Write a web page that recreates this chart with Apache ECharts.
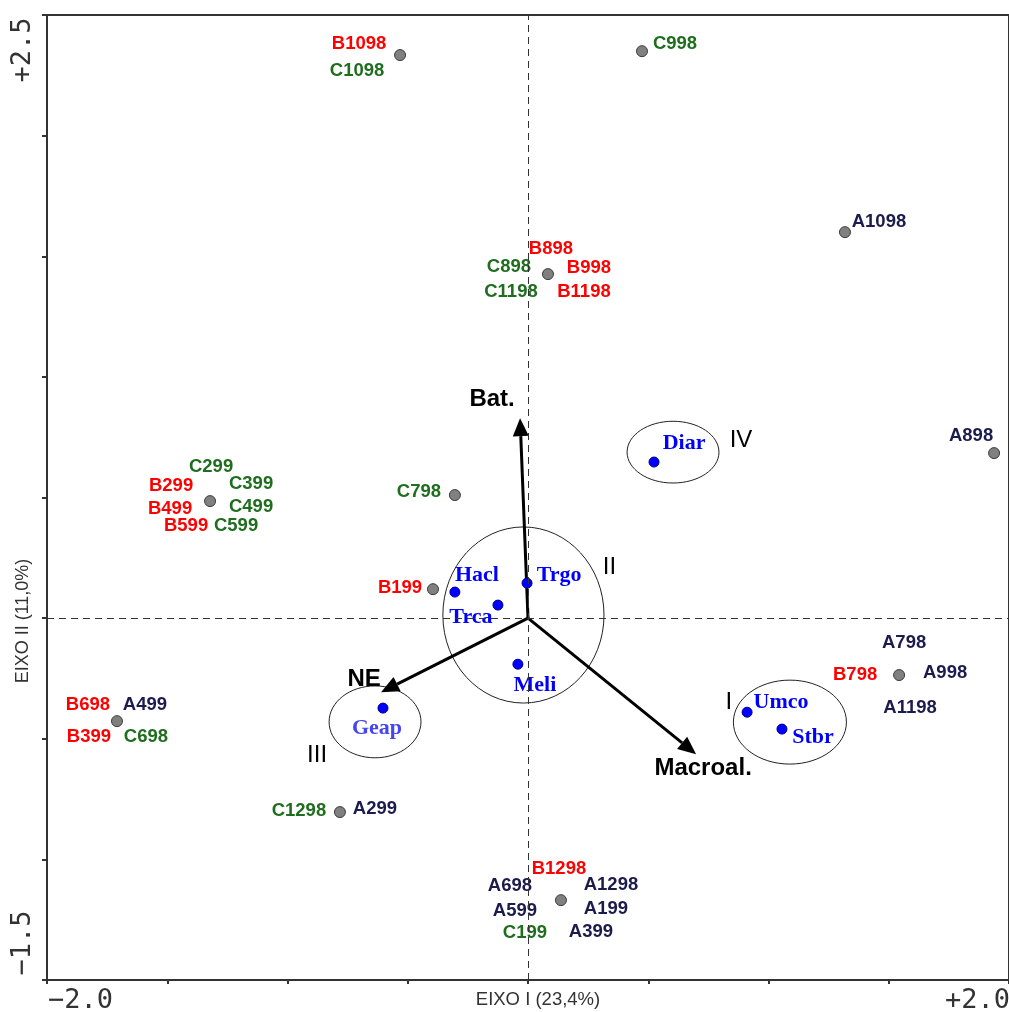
<!DOCTYPE html>
<html>
<head>
<meta charset="utf-8">
<title>EIXO I x EIXO II</title>
<script src="https://cdn.jsdelivr.net/npm/echarts@6/dist/echarts.min.js"></script>
<style>
  html, body { margin: 0; padding: 0; background: #fff; }
  #chart { width: 1009px; height: 1012px; }
</style>
</head>
<body>
<div id="chart"></div>
<script>
// sample points (grey) and the station names printed around each one
const sampleX = [-0.532, 0.474, 1.318, 0.083, 1.938, -1.322, -0.304, -0.395, 1.543, -1.709, -0.782, 0.137];
const sampleY = [2.334, 2.350, 1.600, 1.426, 0.684, 0.485, 0.510, 0.120, -0.236, -0.427, -0.804, -1.169];
const sampleNames = [
  ['B1098', 'C1098'],
  ['C998'],
  ['A1098'],
  ['B898', 'C898', 'B998', 'C1198', 'B1198'],
  ['A898'],
  ['C299', 'B299', 'C399', 'B499', 'C499', 'B599', 'C599'],
  ['C798'],
  ['B199'],
  ['A798', 'B798', 'A998', 'A1198'],
  ['B698', 'A499', 'B399', 'C698'],
  ['C1298', 'A299'],
  ['B1298', 'A698', 'A1298', 'A599', 'A199', 'C199', 'A399']
];

// species (blue)
const speciesNames = ['Diar', 'Hacl', 'Trgo', 'Trca', 'Meli', 'Geap', 'Umco', 'Stbr'];
const speciesX = [0.524, -0.304, -0.004, -0.125, -0.042, -0.603, 0.911, 1.056];
const speciesY = [0.647, 0.108, 0.145, 0.054, -0.191, -0.373, -0.390, -0.460];

// environmental vectors
const envNames = ['Bat.', 'NE', 'Macroal.'];
const envX = [-0.033, -0.611, 0.699];
const envY = [0.829, -0.307, -0.564];

// groups (ellipses)
const groupNames = ['IV', 'II', 'III', 'I'];
const groupCx = [0.603, -0.019, -0.636, 1.089];
const groupCy = [0.688, 0.013, -0.430, -0.431];
const groupRx = [0.191, 0.335, 0.191, 0.235];
const groupRy = [0.128, 0.365, 0.149, 0.174];

// axis end labels
const xTickLabels = ['\u22122.0', '+2.0'];
const yTickLabels = ['+2.5', '\u22121.5'];
const xAxisTitle = 'EIXO I (23,4%)';
const yAxisTitle = 'EIXO II (11,0%)';

// label placement (pixels from the point)
const sampleOffsets = [
  [[-41, -11], [-43, 16]],
  [[33, -7]],
  [[34, -10]],
  [[3, -25], [-39, -7], [41, -6], [-37, 18], [36, 18]],
  [[-23, -17]],
  [[1, -34], [-39, -15], [41, -17], [-40, 8], [41, 6], [-24, 25], [26, 25]],
  [[-36, -3]],
  [[-33, -1]],
  [[5, -32], [-44, 0], [46, -2], [11, 33]],
  [[-29, -16], [28, -16], [-28, 16], [29, 16]],
  [[-41, -1], [35, -3]],
  [[-2, -31], [-51, -14], [50, -15], [-46, 11], [45, 9], [-36, 33], [30, 32]]
];
const speciesOffsets = [[30, -19], [22, -17], [32, -8], [-27, 12], [17, 21], [-6, 20], [34, -10], [31, 8]];
const envOffsets = [[-28, -19], [-17, -13], [7, 14]];
const groupOffsets = [[68, -12], [86, -48], [-58, 34], [-61, -20]];

const nameColors = { A: '#1b1b4d', B: '#ff0000', C: '#1e6e1e' };

const chart = echarts.init(document.getElementById('chart'));

// symbol box is 2x2, so its centre sits at [1, 1]
const at = (off) => [off[0] + 1, off[1] + 1];

const labelItems = [];
sampleNames.forEach((names, i) => {
  names.forEach((n, j) => {
    labelItems.push({
      value: [sampleX[i], sampleY[i]],
      label: {
        formatter: n, position: at(sampleOffsets[i][j]),
        color: nameColors[n[0]], fontFamily: 'Liberation Sans', fontWeight: 'bold', fontSize: 18.5
      }
    });
  });
});
speciesNames.forEach((n, i) => {
  labelItems.push({
    value: [speciesX[i], speciesY[i]],
    label: {
      formatter: n, position: at(speciesOffsets[i]),
      color: n === 'Geap' ? '#4646ee' : '#0000ff', fontFamily: 'Liberation Serif', fontWeight: 'bold', fontSize: 22
    }
  });
});
envNames.forEach((n, i) => {
  labelItems.push({
    value: [envX[i], envY[i]],
    label: {
      formatter: n, position: at(envOffsets[i]),
      color: '#000', fontFamily: 'Liberation Sans', fontWeight: 'bold', fontSize: 24
    }
  });
});
groupNames.forEach((n, i) => {
  labelItems.push({
    value: [groupCx[i], groupCy[i]],
    label: {
      formatter: n, position: at(groupOffsets[i]),
      color: '#000', fontFamily: 'Liberation Sans', fontSize: 24
    }
  });
});

const options = {
  animation: false,
  grid: {
    left: 47, right: 0, top: 15, bottom: 32,
    show: true, borderColor: '#333', borderWidth: 2, backgroundColor: '#fff'
  },
  xAxis: {
    type: 'value', min: -2, max: 2, interval: 0.5,
    axisLine: { onZero: false, lineStyle: { color: '#333', width: 2 } },
    axisTick: { show: true, length: 4, lineStyle: { color: '#333', width: 2 } },
    axisLabel: { show: false },
    splitLine: { show: false }
  },
  yAxis: {
    type: 'value', min: -1.5, max: 2.5, interval: 0.5,
    axisLine: { onZero: false, lineStyle: { color: '#333', width: 2 } },
    axisTick: { show: true, length: 5, lineStyle: { color: '#333', width: 2 } },
    axisLabel: { show: false },
    splitLine: { show: false }
  },
  graphic: [
    { type: 'text', x: 48, y: 1001, style: { text: xTickLabels[0], font: '27px "DejaVu Sans Mono"', fill: '#333', align: 'left', verticalAlign: 'middle' } },
    { type: 'text', x: 1010, y: 1001, style: { text: xTickLabels[1], font: '27px "DejaVu Sans Mono"', fill: '#333', align: 'right', verticalAlign: 'middle' } },
    { type: 'text', x: 23, y: 50, rotation: Math.PI / 2, style: { text: yTickLabels[0], font: '27px "DejaVu Sans Mono"', fill: '#333', align: 'center', verticalAlign: 'middle' } },
    { type: 'text', x: 23, y: 943, rotation: Math.PI / 2, style: { text: yTickLabels[1], font: '27px "DejaVu Sans Mono"', fill: '#333', align: 'center', verticalAlign: 'middle' } },
    { type: 'text', x: 538, y: 1000, style: { text: xAxisTitle, font: '18.5px "Liberation Sans"', fill: '#333', align: 'center', verticalAlign: 'middle' } },
    { type: 'text', x: 23, y: 621, rotation: Math.PI / 2, style: { text: yAxisTitle, font: '18px "Liberation Sans"', fill: '#333', align: 'center', verticalAlign: 'middle' } }
  ],
  series: [
    {
      name: 'grupos',
      type: 'custom',
      silent: true,
      data: groupNames.map((n, i) => [groupCx[i], groupCy[i], groupRx[i], groupRy[i]]),
      renderItem: (params, api) => {
        const c = api.coord([api.value(0), api.value(1)]);
        const s = api.size([api.value(2), api.value(3)]);
        return {
          type: 'ellipse',
          shape: { cx: c[0], cy: c[1], rx: s[0], ry: s[1] },
          style: { fill: 'none', stroke: '#222', lineWidth: 1 }
        };
      },
      markLine: {
        silent: true,
        symbol: 'none',
        label: { show: false },
        lineStyle: { color: '#333', width: 1, type: [7, 5] },
        data: [{ xAxis: 0 }, { yAxis: 0 }]
      },
      z: 1
    },
    {
      name: 'vetores',
      type: 'custom',
      silent: true,
      data: envNames.map((n, i) => [envX[i], envY[i]]),
      renderItem: (params, api) => {
        const o = api.coord([0, 0]);
        const t = api.coord([api.value(0), api.value(1)]);
        const ang = Math.atan2(t[1] - o[1], t[0] - o[0]);
        const L = 18, W = 8;
        const bx = t[0] - L * Math.cos(ang), by = t[1] - L * Math.sin(ang);
        const px = -Math.sin(ang) * W, py = Math.cos(ang) * W;
        return {
          type: 'group',
          children: [
            { type: 'line', shape: { x1: o[0], y1: o[1], x2: bx, y2: by }, style: { stroke: '#000', lineWidth: 3 } },
            { type: 'polygon', shape: { points: [[t[0], t[1]], [bx + px, by + py], [bx - px, by - py]] }, style: { fill: '#000' } }
          ]
        };
      },
      z: 2
    },
    {
      name: 'amostras',
      type: 'scatter',
      symbolSize: 11,
      itemStyle: { color: '#808080', borderColor: '#3a3a3a', borderWidth: 1, opacity: 1 },
      data: sampleX.map((x, i) => [x, sampleY[i]]),
      z: 3
    },
    {
      name: 'especies',
      type: 'scatter',
      symbolSize: 10,
      itemStyle: { color: '#0000ff', borderColor: '#00008b', borderWidth: 1, opacity: 1 },
      data: speciesX.map((x, i) => [x, speciesY[i]]),
      z: 3
    },
    {
      name: 'rotulos',
      type: 'scatter',
      silent: true,
      symbolSize: 2,
      itemStyle: { color: 'rgba(0,0,0,0)', opacity: 1 },
      label: { show: true, align: 'center', verticalAlign: 'middle' },
      labelLayout: { hideOverlap: false },
      data: labelItems,
      z: 4
    }
  ]
};

chart.setOption(options);

window.addEventListener('resize', () => {
  chart.resize();
});
</script>
</body>
</html>
